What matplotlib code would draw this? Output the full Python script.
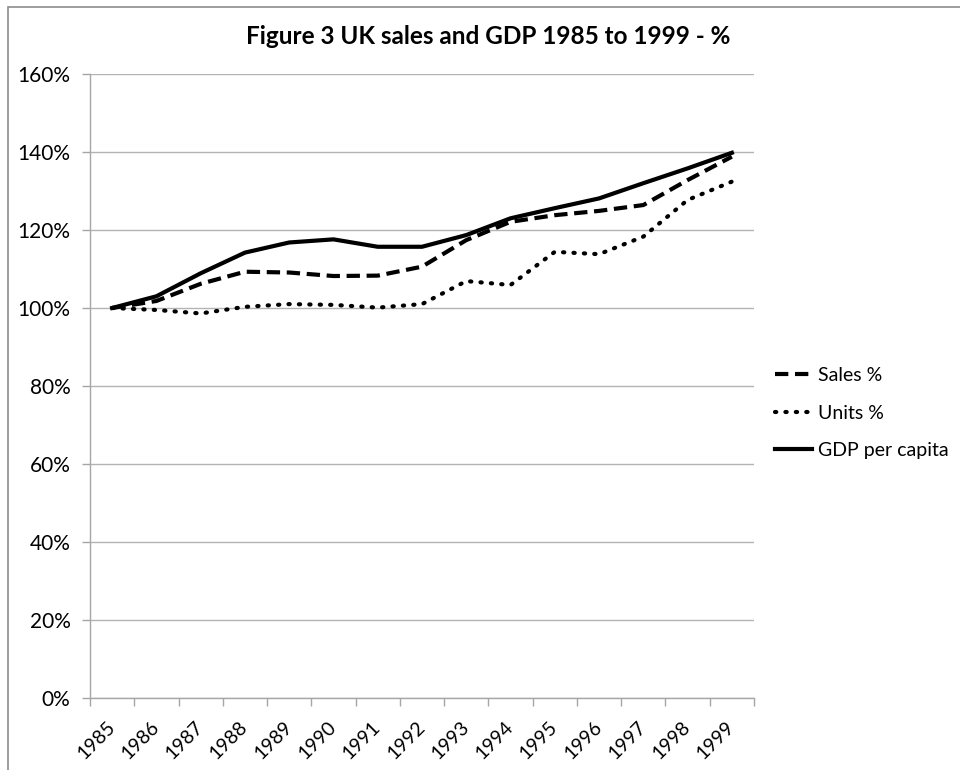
import matplotlib.pyplot as plt
from matplotlib.patches import Rectangle
from matplotlib.lines import Line2D
from matplotlib.ticker import FuncFormatter, FixedLocator

plt.rcParams['font.family'] = ['Lato', 'DejaVu Sans']

years = [str(y) for y in range(1985, 2000)]
sales = [100.0, 101.8, 106.2, 109.3, 109.1, 108.2, 108.3, 110.6, 117.4, 122.1, 123.8, 124.9, 126.4, 132.8, 138.8]
units = [100.0, 99.5, 98.6, 100.3, 101.0, 100.8, 100.1, 101.0, 106.9, 105.9, 114.4, 113.8, 118.3, 127.7, 132.4]
gdp = [100.0, 103.0, 108.9, 114.2, 116.8, 117.6, 115.7, 115.7, 118.7, 123.0, 125.6, 128.1, 132.0, 135.8, 139.8]

fig = plt.figure(figsize=(9.6, 7.7), dpi=100)
# chart area border (only top and left edges fall inside the image)
fig.add_artist(Rectangle((8 / 960, -0.05), 1.1, 1 - 7 / 770 + 0.05, transform=fig.transFigure,
                         fill=False, edgecolor='#8c8c8c', linewidth=1.2))

ax = fig.add_axes([90 / 960, 72 / 770, (754 - 90) / 960, (698 - 74) / 770])

x = list(range(len(years)))
lw = 3.0
dash = (0, (3.2, 1.6))
dots = (0, (0.3, 2.2))
ax.plot(x, sales, color='black', linewidth=lw, linestyle=dash, label='Sales %')
ax.plot(x, units, color='black', linewidth=lw, linestyle=dots, dash_capstyle='round', label='Units %')
ax.plot(x, gdp, color='black', linewidth=lw, label='GDP per capita')

ax.set_xlim(-0.5, len(years) - 0.5)
ax.set_ylim(0, 160)
ax.set_yticks(range(0, 161, 20))
ax.yaxis.set_major_formatter(FuncFormatter(lambda v, p: '%d%%' % v))
ax.grid(axis='y', color='#b3b3b3', linewidth=1.0)
ax.set_axisbelow(True)

ax.set_xticks(x)
ax.set_xticklabels(years, rotation=45, ha='right', va='center', rotation_mode='anchor')
ax.xaxis.set_minor_locator(FixedLocator([i - 0.5 for i in range(len(years) + 1)]))
ax.tick_params(axis='x', which='major', length=0, pad=19, labelsize=14)
ax.tick_params(axis='x', which='minor', length=6, color='#a6a6a6', width=1.0)
ax.tick_params(axis='y', length=6, color='#a6a6a6', width=1.0, pad=8, labelsize=15)

for side in ['top', 'right']:
    ax.spines[side].set_visible(False)
for side in ['left', 'bottom']:
    ax.spines[side].set_color('#a6a6a6')
    ax.spines[side].set_linewidth(1.0)

fig.text(0.509, 0.952, 'Figure 3 UK sales and GDP 1985 to 1999 - %', ha='center', va='center',
         fontsize=17.5, fontweight='bold')

handles = [
    Line2D([], [], color='black', linewidth=lw, linestyle=dash),
    Line2D([], [], color='black', linewidth=lw, linestyle=dots, dash_capstyle='round'),
    Line2D([], [], color='black', linewidth=lw),
]
fig.legend(handles, ['Sales %', 'Units %', 'GDP per capita'], loc='center left',
           bbox_to_anchor=(775 / 960, 1 - 413 / 770), frameon=False, fontsize=14,
           handlelength=1.9, handletextpad=0.3, labelspacing=1.05, borderpad=0,
           borderaxespad=0)

fig.savefig('out.png', dpi=100)
